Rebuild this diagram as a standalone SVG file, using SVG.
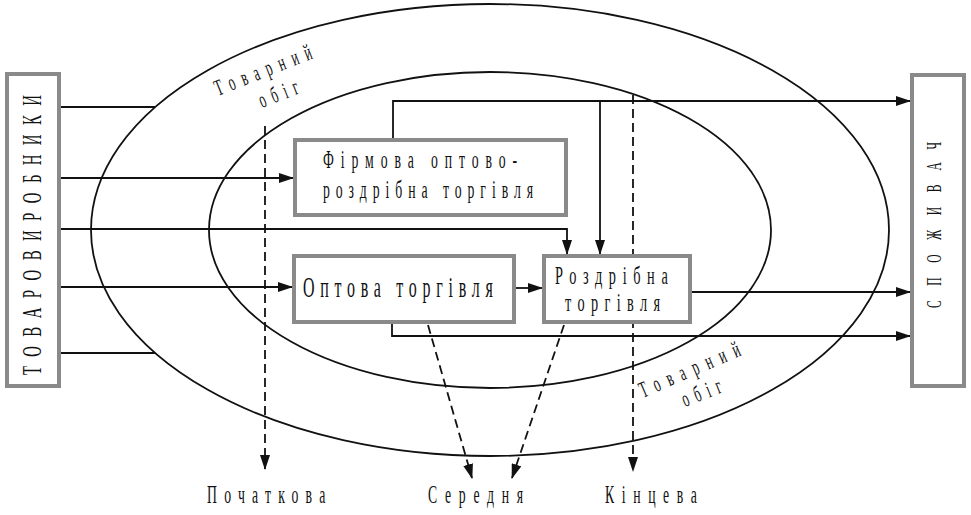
<svg xmlns="http://www.w3.org/2000/svg" width="971" height="515" viewBox="0 0 971 515">
<style>
.bg{fill:#fff}
.ell{fill:none;stroke:#111;stroke-width:1.8}
.ln{fill:none;stroke:#111;stroke-width:1.8}
.dash{fill:none;stroke:#111;stroke-width:1.8;stroke-dasharray:9 5}
.box{fill:#fff;stroke:#8a8a8a;stroke-width:4}
text{font-family:"Liberation Serif","DejaVu Serif",serif;fill:#111}
</style>
<defs>
<marker id="ah" markerUnits="userSpaceOnUse" markerWidth="15" markerHeight="10" refX="14" refY="5" orient="auto">
<path d="M0,0 L15,5 L0,10 Z" fill="#111"/>
</marker>
</defs>
<rect class="bg" x="0" y="0" width="971" height="515"/>
<g id="ellipses">
<ellipse class="ell" cx="490" cy="230" rx="399" ry="226"/>
<ellipse class="ell" cx="490" cy="230" rx="281" ry="158"/>
</g>
<g id="connectors">
<path class="ln" d="M61,107 H155"/>
<path class="ln" d="M61,353 H155"/>
<path class="ln" d="M61,178 H293" marker-end="url(#ah)"/>
<path class="ln" d="M61,229 H567 V254" marker-end="url(#ah)"/>
<path class="ln" d="M61,287 H292" marker-end="url(#ah)"/>
<path class="ln" d="M393,138 V101 H910" marker-end="url(#ah)"/>
<path class="ln" d="M600,101 V254" marker-end="url(#ah)"/>
<path class="ln" d="M516,288 H542" marker-end="url(#ah)"/>
<path class="ln" d="M692,292 H910" marker-end="url(#ah)"/>
<path class="ln" d="M392,324 V336 H910" marker-end="url(#ah)"/>
<path class="dash" d="M265,126 V469" marker-end="url(#ah)"/>
<path class="dash" d="M633,95 V471" marker-end="url(#ah)"/>
<path class="dash" d="M428,325 L472,478" marker-end="url(#ah)"/>
<path class="dash" d="M564,325 L512,478" marker-end="url(#ah)"/>
</g>
<g id="producers">
<rect class="box" x="7" y="74" width="52" height="312"/>
<text font-size="27" transform="translate(41,375) rotate(-90) scale(0.55,1)" textLength="509" lengthAdjust="spacing">ТОВАРОВИРОБНИКИ</text>
</g>
<g id="consumer">
<rect class="box" x="912" y="75" width="52" height="311"/>
<text font-size="21" transform="translate(941,308) rotate(-90) scale(0.55,1)" textLength="302" lengthAdjust="spacing">СПОЖИВАЧ</text>
</g>
<g id="firm">
<rect class="box" x="295" y="140" width="271" height="75"/>
<text font-size="25" transform="translate(323,168) scale(0.55,1)" textLength="353" lengthAdjust="spacing">Фірмова оптово-</text>
<text font-size="25" transform="translate(323,198) scale(0.55,1)" textLength="382" lengthAdjust="spacing">роздрібна торгівля</text>
</g>
<g id="wholesale">
<rect class="box" x="294" y="256" width="220" height="66"/>
<text font-size="29" transform="translate(303,297) scale(0.55,1)" textLength="345" lengthAdjust="spacing">Оптова торгівля</text>
</g>
<g id="retail">
<rect class="box" x="544" y="256" width="146" height="66"/>
<text font-size="26" transform="translate(555,284) scale(0.55,1)" textLength="205" lengthAdjust="spacing">Роздрібна</text>
<text font-size="26" transform="translate(565,311) scale(0.55,1)" textLength="173" lengthAdjust="spacing">торгівля</text>
</g>
<g id="labels">
<text font-size="23" transform="translate(218,96) rotate(-21.6) scale(0.55,1)" textLength="187" lengthAdjust="spacing">Товарний</text>
<text font-size="23" transform="translate(262,108) rotate(-21.5) scale(0.55,1)" textLength="75" lengthAdjust="spacing">обіг</text>
<text font-size="23" transform="translate(643,398) rotate(-23.5) scale(0.55,1)" textLength="196" lengthAdjust="spacing">Товарний</text>
<text font-size="23" transform="translate(685,407) rotate(-21.5) scale(0.55,1)" textLength="75" lengthAdjust="spacing">обіг</text>
<text font-size="25" transform="translate(207,503) scale(0.55,1)" textLength="215" lengthAdjust="spacing">Початкова</text>
<text font-size="25" transform="translate(428,503) scale(0.55,1)" textLength="173" lengthAdjust="spacing">Середня</text>
<text font-size="25" transform="translate(605,503) scale(0.55,1)" textLength="167" lengthAdjust="spacing">Кінцева</text>
</g>
</svg>
